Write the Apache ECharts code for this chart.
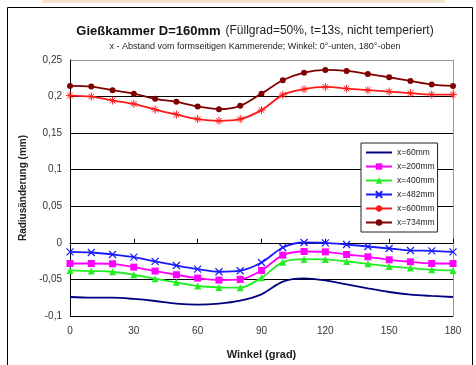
<!DOCTYPE html>
<html>
<head>
<meta charset="utf-8">
<script src="https://cdn.jsdelivr.net/npm/echarts@6/dist/echarts.min.js"></script>
<style>
  html, body { margin: 0; padding: 0; background: #fff; }
  #chart { width: 476px; height: 365px; }
</style>
</head>
<body>
<div id="chart"></div>
<script>
const angles = [0, 10, 20, 30, 40, 50, 60, 70, 80, 90, 100, 110, 120, 130, 140, 150, 160, 170, 180];

const x60 = [-0.074, -0.075, -0.075, -0.0767, -0.0795, -0.0831, -0.0845, -0.0831, -0.079, -0.0704, -0.0531, -0.0486, -0.0514, -0.0568, -0.0622, -0.0672, -0.0708, -0.0726, -0.074];
const x200 = [-0.0282, -0.0282, -0.0286, -0.0332, -0.0386, -0.0436, -0.0482, -0.0509, -0.05, -0.0377, -0.0168, -0.0118, -0.0123, -0.0159, -0.0191, -0.0232, -0.0259, -0.0282, -0.0282];
const x400 = [-0.0377, -0.0386, -0.0395, -0.0436, -0.049, -0.054, -0.059, -0.0609, -0.0613, -0.0477, -0.0264, -0.0223, -0.0227, -0.0254, -0.0286, -0.0322, -0.0345, -0.0368, -0.0377];
const x482 = [-0.0123, -0.0132, -0.0159, -0.0195, -0.0254, -0.0309, -0.0359, -0.0395, -0.0381, -0.0268, -0.0064, 0.0005, 0, -0.0023, -0.005, -0.0077, -0.0105, -0.0109, -0.0123];
const x600 = [0.2014, 0.2, 0.1946, 0.19, 0.1823, 0.1755, 0.1692, 0.1669, 0.1692, 0.1815, 0.2023, 0.21, 0.2132, 0.2109, 0.2087, 0.2068, 0.2046, 0.2027, 0.2027];
const x734 = [0.2146, 0.2136, 0.2087, 0.204, 0.197, 0.1928, 0.1864, 0.1828, 0.1873, 0.204, 0.2223, 0.2327, 0.2364, 0.235, 0.231, 0.2264, 0.2214, 0.2164, 0.2146];

const seriesNames = ['x=60mm', 'x=200mm', 'x=400mm', 'x=482mm', 'x=600mm', 'x=734mm'];
const xTicks = [0, 30, 60, 90, 120, 150, 180];

const FONT = '"Liberation Sans", Arial, sans-serif';
const pairs = vals => angles.map((a, i) => [a, vals[i]]);
const fmt = v => String(+v.toFixed(2)).replace('.', ',');

const chart = echarts.init(document.getElementById('chart'));

const mk = (name, vals, color, symbol, size, extra) => Object.assign({
  name,
  type: 'line',
  data: pairs(vals),
  smooth: 0.3,
  symbol,
  symbolSize: size,
  lineStyle: { color, width: 1.8 },
  itemStyle: { color },
  emphasis: { disabled: true },
  z: 3
}, extra || {});

// first legend entry: plain line without marker
const legendData = seriesNames.map((n, i) => i === 0 ? { name: n, itemStyle: { opacity: 0 } } : n);

chart.setOption({
  animation: false,
  textStyle: { fontFamily: FONT },
  graphic: [
    { type: 'rect', shape: { x: 42, y: 0, width: 403, height: 3 }, style: { fill: '#f3e3cf' } },
    { type: 'rect', shape: { x: 7.5, y: 7.5, width: 465, height: 370 }, style: { fill: 'none', stroke: '#000', lineWidth: 1 } }
  ],
  title: {
    left: 250,
    top: 17,
    textAlign: 'center',
    text: '{b|Gießkammer D=160mm} {n|(Füllgrad=50%, t=13s, nicht temperiert)}',
    textStyle: {
      fontWeight: 'normal',
      rich: {
        b: { fontFamily: FONT, fontSize: 13, fontWeight: 'bold', color: '#111' },
        n: { fontFamily: FONT, fontSize: 12, fontWeight: 'normal', color: '#222' }
      }
    },
    subtext: 'x - Abstand vom formseitigen Kammerende; Winkel: 0°-unten, 180°-oben',
    subtextStyle: { fontFamily: FONT, fontSize: 9, color: '#222' },
    itemGap: 2
  },
  legend: {
    orient: 'vertical',
    left: 361,
    top: 143,
    data: legendData,
    backgroundColor: '#fff',
    borderColor: '#222',
    borderWidth: 1,
    padding: [5, 3, 5, 4],
    itemGap: 5,
    itemWidth: 26,
    itemHeight: 8,
    textStyle: { fontFamily: FONT, fontSize: 8.5, color: '#222' }
  },
  grid: { left: 70, right: 23, top: 60, bottom: 47 },
  xAxis: {
    type: 'value',
    min: 0,
    max: 180,
    interval: 30,
    name: 'Winkel (grad)',
    nameLocation: 'middle',
    nameGap: 33,
    nameTextStyle: { fontFamily: FONT, fontSize: 11, fontWeight: 'bold', color: '#222' },
    axisLine: { lineStyle: { color: '#000', width: 1 } },
    axisTick: { inside: true, length: 4, lineStyle: { color: '#000' } },
    axisLabel: { fontFamily: FONT, fontSize: 10, color: '#333', margin: 10, formatter: v => xTicks.includes(v) ? String(v) : '' },
    splitLine: { show: false }
  },
  yAxis: [{
    type: 'value',
    min: -0.1,
    max: 0.25,
    interval: 0.05,
    name: 'Radiusänderung (mm)',
    nameLocation: 'middle',
    nameGap: 41,
    nameRotate: 90,
    nameTextStyle: { fontFamily: FONT, fontSize: 10, fontWeight: 'bold', color: '#222' },
    axisLine: { show: true, lineStyle: { color: '#000', width: 1 } },
    axisTick: { show: false },
    axisLabel: { fontFamily: FONT, fontSize: 10, color: '#333', margin: 8, formatter: fmt },
    splitLine: { lineStyle: { color: ['#000', '#000', '#000', '#000', '#000', '#000', '#000', '#999'], width: 1 } }
  }, {
    type: 'value',
    position: 'right',
    min: -0.1,
    max: 0.25,
    interval: 0.05,
    axisLine: { show: true, lineStyle: { color: '#999', width: 1 } },
    axisTick: { show: false },
    axisLabel: { show: false },
    splitLine: { show: false }
  }],
  series: [
    mk(seriesNames[0], x60, '#000080', 'circle', 1, { showSymbol: false }),
    mk(seriesNames[1], x200, '#ff00ff', 'rect', 7),
    mk(seriesNames[2], x400, '#22ee22', 'triangle', 7),
    mk(seriesNames[3], x482, '#1a1aff', 'path://M0,0L10,10M10,0L0,10', 7,
      { itemStyle: { color: '#1a1aff', borderColor: '#1a1aff', borderWidth: 1.2 } }),
    mk(seriesNames[4], x600, '#ff1a1a', 'path://M5,0L5,10M0,5L10,5M1.5,1.5L8.5,8.5M8.5,1.5L1.5,8.5', 8,
      { itemStyle: { color: '#ff1a1a', borderColor: '#ff1a1a', borderWidth: 1 } }),
    mk(seriesNames[5], x734, '#800000', 'circle', 6)
  ]
});
</script>
</body>
</html>
